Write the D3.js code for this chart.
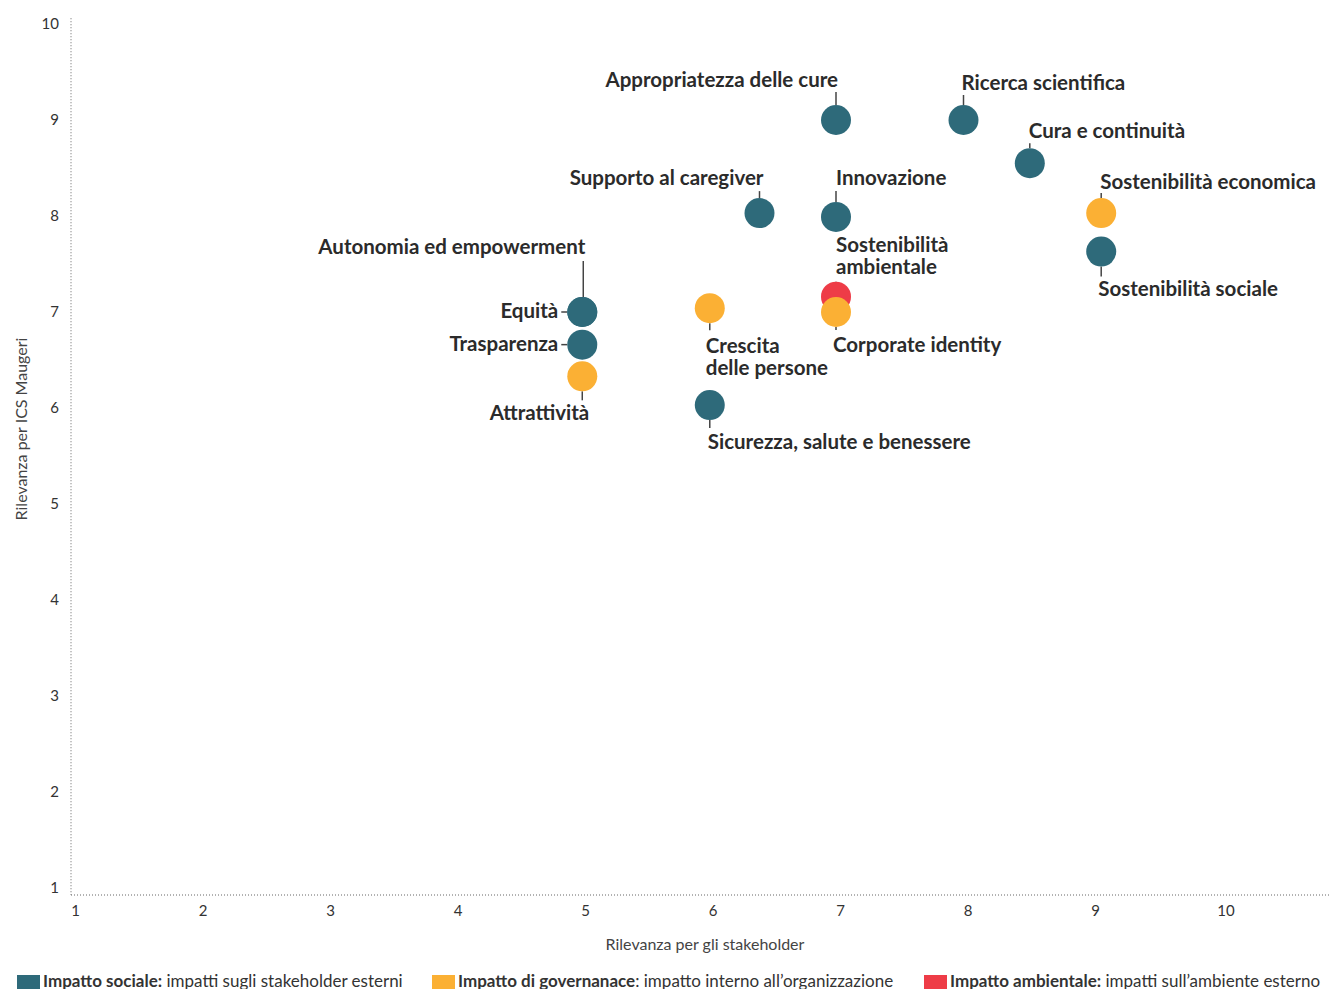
<!DOCTYPE html>
<html>
<head>
<meta charset="utf-8">
<script src="https://cdn.jsdelivr.net/npm/d3@7"></script>
<style>
  html, body { margin: 0; padding: 0; background: #fff; }
  svg { display: block; font-family: Lato, "Noto Sans", sans-serif; }
</style>
</head>
<body>
<svg id="chart" width="1331" height="989"></svg>
<script>
// Materiality topics: stakeholder relevance (x) vs. relevance for ICS Maugeri (y)
const topics = [
  "Autonomia ed empowerment",
  "Equità",
  "Trasparenza",
  "Attrattività",
  "Crescita delle persone",
  "Sicurezza, salute e benessere",
  "Supporto al caregiver",
  "Appropriatezza delle cure",
  "Innovazione",
  "Sostenibilità ambientale",
  "Corporate identity",
  "Ricerca scientifica",
  "Cura e continuità",
  "Sostenibilità economica",
  "Sostenibilità sociale"
];
const stakeholderScore = [5.01, 5.01, 5.01, 5.01, 6.01, 6.01, 6.4, 7, 7, 7, 7, 8, 8.52, 9.08, 9.08];
const companyScore     = [7, 7, 6.66, 6.33, 7.04, 6.03, 8.03, 9, 7.99, 7.16, 7, 9, 8.55, 8.03, 7.63];
const topicGroup = ["soc", "soc", "soc", "gov", "gov", "soc", "soc", "soc", "soc", "env", "gov", "soc", "soc", "gov", "soc"];

const xTicks = [1, 2, 3, 4, 5, 6, 7, 8, 9, 10];
const yTicks = [1, 2, 3, 4, 5, 6, 7, 8, 9, 10];

const groupKeys = ["soc", "gov", "env"];
const groupColors = ["#2e6a7a", "#fbb034", "#ee3c47"];
const legendBold = ["Impatto sociale:", "Impatto di governanace", "Impatto ambientale:"];
const legendRest = [" impatti sugli stakeholder esterni", ": impatto interno all’organizzazione", " impatti sull’ambiente esterno"];

// Label placement around each dot (offsets in px from the dot centre)
const labelPlacement = {
  "Autonomia ed empowerment":      { tx: 3,  ty: -58, anchor: "end",   lead: [[1, -51], [1, -15]] },
  "Equità":                        { tx: -24, ty: 6,  anchor: "end",   lead: [[-21, 0], [-15, 0]] },
  "Trasparenza":                   { tx: -24, ty: 6,  anchor: "end",   lead: [[-21, 0], [-15, 0]] },
  "Attrattività":                  { tx: 7,  ty: 44,  anchor: "end",   lead: [[0, 15], [0, 24]] },
  "Crescita delle persone":        { tx: -4, ty: 45,  anchor: "start", lead: [[0, 15], [0, 22]], lines: ["Crescita", "delle persone"] },
  "Sicurezza, salute e benessere": { tx: -2, ty: 44,  anchor: "start", lead: [[0, 15], [0, 23]] },
  "Supporto al caregiver":         { tx: 4,  ty: -28, anchor: "end",   lead: [[0, -15], [0, -22]] },
  "Appropriatezza delle cure":     { tx: 2,  ty: -33, anchor: "end",   lead: [[0, -15], [0, -28]] },
  "Innovazione":                   { tx: 0,  ty: -32, anchor: "start", lead: [[0, -15], [0, -26]] },
  "Sostenibilità ambientale":      { tx: 0,  ty: -45, anchor: "start", lead: [[0, -15], [0, -11]], lines: ["Sostenibilità", "ambientale"] },
  "Corporate identity":            { tx: -3, ty: 40,  anchor: "start", lead: [[0, 15], [0, 18]] },
  "Ricerca scientifica":           { tx: -2, ty: -30, anchor: "start", lead: [[0, -15], [0, -25]] },
  "Cura e continuità":             { tx: -1, ty: -25, anchor: "start", lead: [[0, -15], [0, -20]] },
  "Sostenibilità economica":       { tx: -1, ty: -24, anchor: "start", lead: [[0, -15], [0, -20]] },
  "Sostenibilità sociale":         { tx: -3, ty: 44,  anchor: "start", lead: [[0, 15], [0, 25]] }
};

const svg = d3.select("#chart");
const x = d3.scaleLinear().domain([1, 10]).range([71, 1218.5]);
const y = d3.scaleLinear().domain([1, 10]).range([888, 24]);
const color = d3.scaleOrdinal().domain(groupKeys).range(groupColors);

const axisColor = "#666";
const tickTextColor = "#333";

// y axis
const yAxis = svg.append("g")
  .attr("transform", `translate(${x(1)},0)`)
  .call(d3.axisLeft(y).tickValues(yTicks).tickSize(0).tickPadding(12).tickFormat(d3.format("d")));
yAxis.select(".domain").remove();
yAxis.selectAll("text").attr("font-size", 15).attr("fill", tickTextColor).attr("font-family", "Lato, sans-serif");
svg.append("line")
  .attr("x1", x(1)).attr("x2", x(1))
  .attr("y1", y(10.06)).attr("y2", y(1) + 7)
  .attr("stroke", axisColor).attr("stroke-width", 1).attr("stroke-dasharray", "1,2");

// x axis
const xAxis = svg.append("g")
  .attr("transform", `translate(0,${y(1) + 7})`)
  .call(d3.axisBottom(x).tickValues(xTicks).tickSize(0).tickPadding(10).tickFormat(d3.format("d")));
xAxis.select(".domain").remove();
xAxis.selectAll("text").attr("font-size", 15).attr("fill", tickTextColor).attr("dx", 4).attr("font-family", "Lato, sans-serif");
xAxis.selectAll("text").filter(d => d === 10).attr("dx", 7);
svg.append("line")
  .attr("x1", x(1)).attr("x2", 1331)
  .attr("y1", y(1) + 7).attr("y2", y(1) + 7)
  .attr("stroke", axisColor).attr("stroke-width", 1).attr("stroke-dasharray", "1,2");

// axis titles
svg.append("text")
  .attr("x", 705).attr("y", 950)
  .attr("text-anchor", "middle").attr("font-size", 16).attr("fill", "#444")
  .text("Rilevanza per gli stakeholder");
svg.append("text")
  .attr("transform", `translate(27,429) rotate(-90)`)
  .attr("text-anchor", "middle").attr("font-size", 16).attr("fill", "#444")
  .text("Rilevanza per ICS Maugeri");

const points = topics.map((name, i) => ({
  name, sx: stakeholderScore[i], sy: companyScore[i], group: topicGroup[i]
}));

// leader lines
const leads = svg.append("g");
points.forEach(p => {
  const pl = labelPlacement[p.name];
  if (!pl) return;
  const cx = x(p.sx), cy = y(p.sy);
  leads.append("line")
    .attr("x1", cx + pl.lead[0][0]).attr("y1", cy + pl.lead[0][1])
    .attr("x2", cx + pl.lead[1][0]).attr("y2", cy + pl.lead[1][1])
    .attr("stroke", "#444").attr("stroke-width", 1.5);
});

// dots
svg.append("g").selectAll("circle")
  .data(points)
  .join("circle")
  .attr("cx", d => x(d.sx))
  .attr("cy", d => y(d.sy))
  .attr("r", 15)
  .attr("fill", d => color(d.group));

// labels
const labels = svg.append("g")
  .attr("font-size", 20.5).attr("font-weight", "bold").attr("fill", "#2b2b2b");
points.forEach(p => {
  const pl = labelPlacement[p.name];
  const cx = x(p.sx), cy = y(p.sy);
  const t = labels.append("text")
    .attr("x", cx + pl.tx).attr("y", cy + pl.ty)
    .attr("text-anchor", pl.anchor);
  const lines = pl.lines || [p.name];
  lines.forEach((ln, k) => {
    t.append("tspan").attr("x", cx + pl.tx).attr("dy", k === 0 ? 0 : 22).text(ln);
  });
});

// legend
const legendX = [17, 432, 924];
const legend = svg.append("g");
groupKeys.forEach((k, i) => {
  legend.append("rect")
    .attr("x", legendX[i]).attr("y", 975).attr("width", 23).attr("height", 16)
    .attr("fill", groupColors[i]);
  const t = legend.append("text")
    .attr("x", legendX[i] + 26).attr("y", 987)
    .attr("font-size", 17).attr("fill", "#333");
  t.append("tspan").attr("font-weight", "bold").text(legendBold[i]);
  t.append("tspan").text(legendRest[i]);
});
</script>
</body>
</html>
